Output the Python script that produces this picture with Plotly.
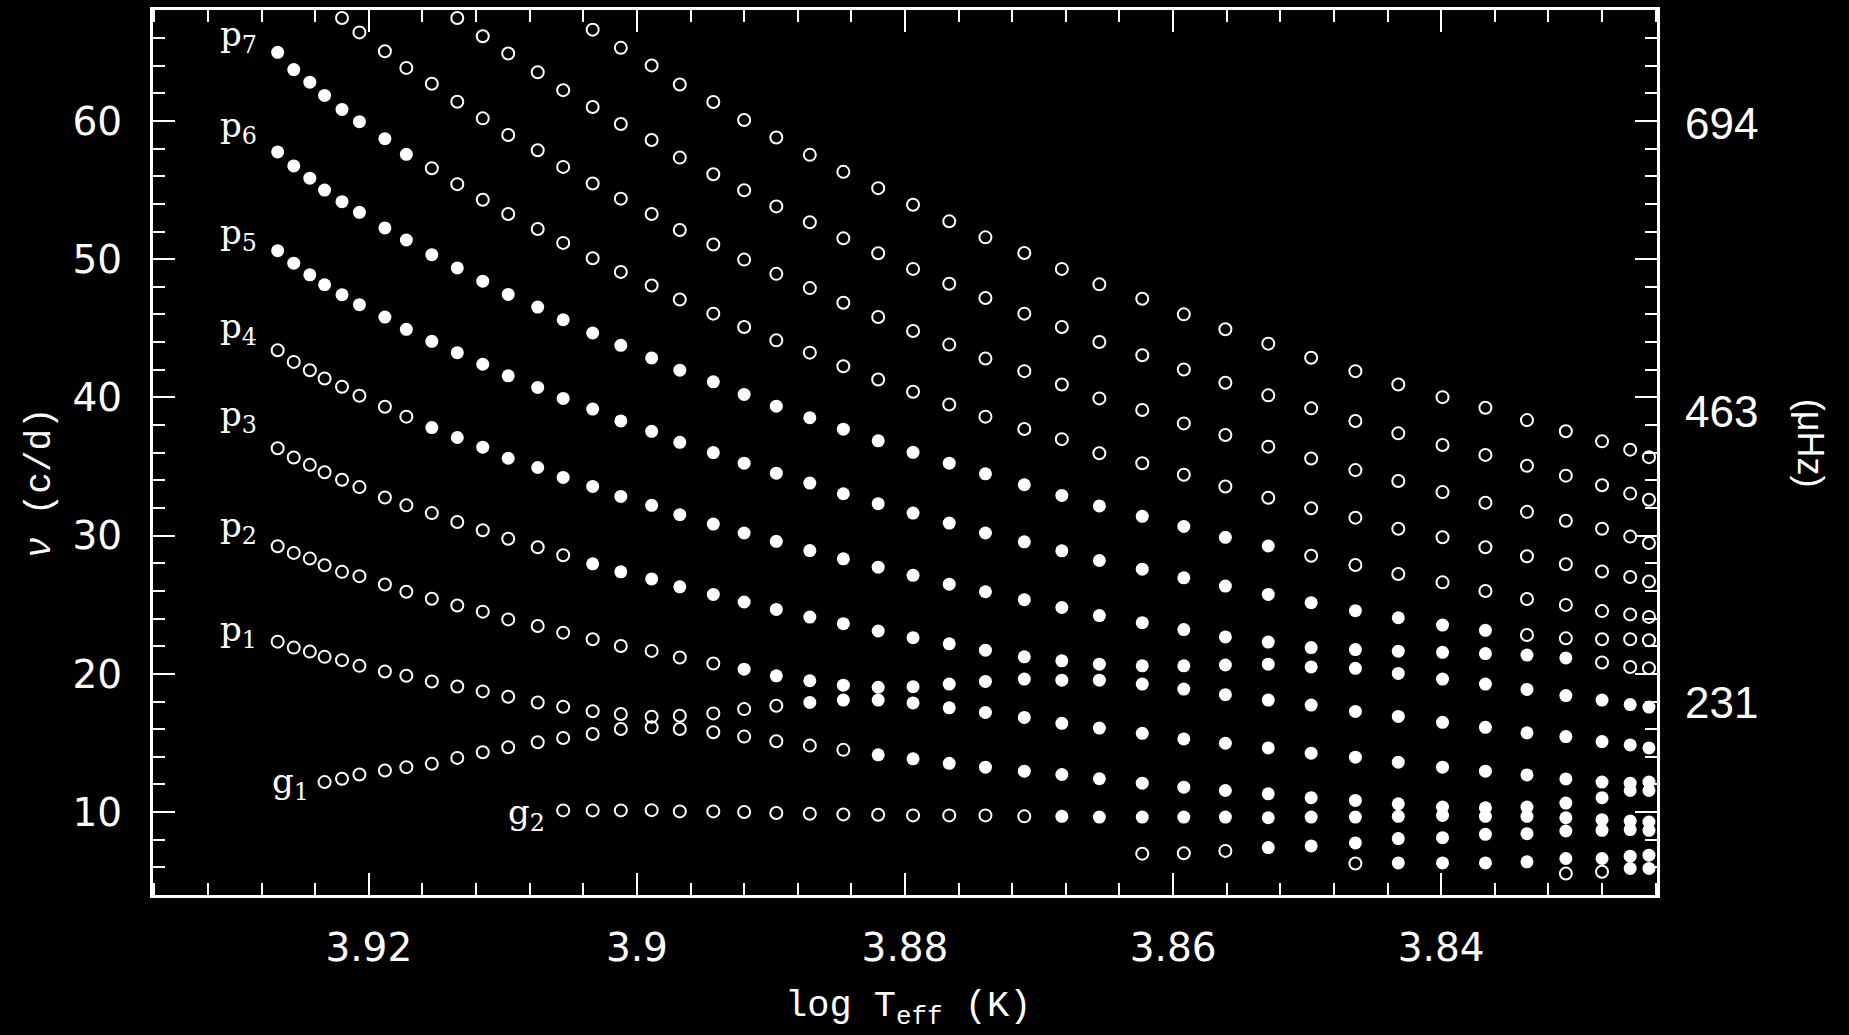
import plotly.graph_objects as go

# ---------------- data ----------------
# model effective temperatures (one column of points per model)
log_teff = [3.9268, 3.9256, 3.9244, 3.9233, 3.9220, 3.9207, 3.9188, 3.9172, 3.9153, 3.9134,
            3.9115, 3.9096, 3.9074, 3.9055, 3.9033, 3.9012, 3.8989, 3.8968, 3.8943, 3.8920,
            3.8896, 3.8871, 3.8846, 3.8820, 3.8794, 3.8767, 3.8740, 3.8711, 3.8683, 3.8655,
            3.8623, 3.8592, 3.8561, 3.8529, 3.8497, 3.8464, 3.8432, 3.8399, 3.8367, 3.8336,
            3.8307, 3.8280, 3.8259, 3.8245]

# each mode sequence: first model index, frequencies (c/d), state per point (f = filled/unstable, o = open/stable)
p10_start = 14
p10_nu = [66.61, 65.29, 64.02, 62.64, 61.37, 60.07, 58.80, 57.55, 56.32, 55.14,
          53.94, 52.74, 51.58, 50.45, 49.30, 48.18, 47.14, 46.01, 44.93, 43.89,
          42.87, 41.90, 40.94, 40.02, 39.25, 38.36, 37.55, 36.82, 36.22, 35.68]
p10_state = "oooooooooo oooooooooo oooooooooo"

p9_start = 9
p9_nu = [67.45, 66.13, 64.88, 63.53, 62.23, 61.01, 59.78, 58.62, 57.35, 56.15,
         54.99, 53.82, 52.67, 51.51, 50.43, 49.30, 48.22, 47.19, 46.06, 45.09,
         44.01, 43.05, 42.02, 41.06, 40.15, 39.21, 38.29, 37.40, 36.56, 35.84,
         35.06, 34.34, 33.65, 33.04, 32.60]
p9_state = "oooooooooo oooooooooo oooooooooo ooooo"

p8_start = 4
p8_nu = [67.45, 66.41, 65.05, 63.84, 62.69, 61.39, 60.19, 58.99, 57.88, 56.68,
         55.48, 54.38, 53.27, 52.11, 51.06, 49.97, 48.94, 47.91, 46.85, 45.82,
         44.81, 43.82, 42.81, 41.90, 40.94, 39.93, 39.09, 38.12, 37.28, 36.44,
         35.58, 34.74, 33.95, 33.15, 32.38, 31.72, 31.08, 30.50, 29.93, 29.47]
p8_state = "oooooooooo oooooooooo oooooooooo oooooooooo"

p7_start = 0
p7_nu = [64.97, 63.72, 62.81, 61.85, 60.84, 59.95, 58.72, 57.59, 56.58, 55.43,
         54.30, 53.27, 52.19, 51.18, 50.07, 49.08, 48.10, 47.09, 46.06, 45.09,
         44.13, 43.24, 42.26, 41.30, 40.41, 39.49, 38.61, 37.72, 36.98, 35.96,
         35.24, 34.40, 33.56, 32.74, 31.98, 31.30, 30.50, 29.88, 29.16, 28.51,
         27.93, 27.40, 27.01, 26.68]
p7_state = "ffffffffoo oooooooooo oooooooooo oooooooooo oooo"

p6_start = 0
p6_nu = [57.76, 56.75, 55.86, 55.00, 54.16, 53.39, 52.26, 51.39, 50.33, 49.37,
         48.41, 47.45, 46.54, 45.62, 44.66, 43.77, 42.86, 41.97, 41.13, 40.22,
         39.37, 38.53, 37.70, 36.86, 36.03, 35.24, 34.47, 33.68, 32.91, 32.15,
         31.40, 30.67, 29.88, 29.25, 28.55, 27.88, 27.22, 26.62, 25.99, 25.42,
         24.99, 24.54, 24.30, 24.12]
p6_state = "ffffffffff ffffffffff ffffffffff ffffoooooo oooo"

p5_start = 0
p5_nu = [50.62, 49.71, 48.87, 48.15, 47.43, 46.71, 45.81, 44.93, 44.06, 43.24,
         42.40, 41.56, 40.72, 39.93, 39.16, 38.30, 37.55, 36.75, 36.01, 35.24,
         34.52, 33.80, 33.03, 32.31, 31.63, 30.91, 30.19, 29.55, 28.90, 28.20,
         27.57, 26.95, 26.35, 25.75, 25.15, 24.57, 24.06, 23.53, 23.15, 22.81,
         22.57, 22.50, 22.50, 22.43]
p5_state = "ffffffffff ffffffffff ffffffffff fffffffffo oooo"

p4_start = 0
p4_nu = [43.41, 42.57, 41.97, 41.37, 40.77, 40.12, 39.33, 38.61, 37.82, 37.10,
         36.40, 35.60, 34.93, 34.21, 33.56, 32.84, 32.19, 31.52, 30.84, 30.19,
         29.59, 28.92, 28.32, 27.72, 27.13, 26.49, 25.94, 25.37, 24.80, 24.22,
         23.70, 23.20, 22.67, 22.30, 21.90, 21.76, 21.64, 21.56, 21.47, 21.36,
         21.15, 20.82, 20.50, 20.41]
p4_state = "ooooooooff ffffffffff ffffffffff ffffffffff fooo"

p3_start = 0
p3_nu = [36.32, 35.65, 35.12, 34.59, 34.04, 33.51, 32.76, 32.19, 31.63, 30.99,
         30.39, 29.78, 29.16, 28.58, 27.96, 27.38, 26.87, 26.30, 25.75, 25.20,
         24.66, 24.11, 23.63, 23.10, 22.62, 22.17, 21.71, 21.23, 20.94, 20.70,
         20.58, 20.58, 20.64, 20.70, 20.50, 20.40, 20.03, 19.62, 19.26, 18.87,
         18.43, 18.10, 17.78, 17.60]
p3_state = "oooooooooo ooooffffff ffffffffff ffffffffff ffff"

p2_start = 0
p2_nu = [29.23, 28.75, 28.34, 27.86, 27.38, 27.07, 26.47, 25.94, 25.43, 24.95,
         24.50, 23.94, 23.46, 22.98, 22.50, 22.02, 21.66, 21.18, 20.75, 20.34,
         19.86, 19.50, 19.18, 19.03, 19.07, 19.26, 19.45, 19.62, 19.54, 19.54,
         19.26, 18.90, 18.49, 18.10, 17.74, 17.28, 16.92, 16.49, 16.13, 15.73,
         15.46, 15.10, 14.86, 14.64]
p2_state = "oooooooooo ooooooooof ffffffffff ffffffffff ffff"

p1_start = 0
p1_nu = [22.33, 21.90, 21.61, 21.23, 20.99, 20.58, 20.17, 19.86, 19.45, 19.09,
         18.73, 18.34, 17.93, 17.62, 17.29, 17.09, 16.90, 16.97, 17.14, 17.45,
         17.69, 17.93, 18.10, 18.10, 17.90, 17.54, 17.21, 16.85, 16.42, 16.08,
         15.70, 15.29, 14.98, 14.64, 14.26, 13.97, 13.61, 13.25, 12.96, 12.69,
         12.40, 12.17, 12.09, 12.17]
p1_state = "oooooooooo oooooooooo offfffffff ffffffffff ffff"

g1_start = 3
g1_nu = [12.17, 12.41, 12.72, 13.01, 13.25, 13.49, 13.92, 14.33, 14.69, 15.05,
         15.36, 15.65, 16.01, 16.13, 16.01, 15.77, 15.46, 15.12, 14.81, 14.50,
         14.14, 13.85, 13.53, 13.25, 12.96, 12.72, 12.41, 12.09, 11.80, 11.56,
         11.32, 11.04, 10.84, 10.60, 10.36, 10.31, 10.36, 10.65, 11.04, 11.56,
         11.56]
g1_state = "oooooooooo oooooooooo ffffffffff ffffffffff f"

g2_start = 13
g2_nu = [10.12, 10.12, 10.12, 10.14, 10.05, 10.05, 10.00, 9.93, 9.88, 9.83,
         9.81, 9.76, 9.76, 9.76, 9.69, 9.69, 9.64, 9.64, 9.64, 9.64,
         9.59, 9.64, 9.64, 9.69, 9.76, 9.69, 9.69, 9.59, 9.45, 9.35, 9.28]
g2_state = "oooooooooo ooooofffff ffffffffff f"

g3_start = 30
g3_nu = [6.99, 7.02, 7.19, 7.43, 7.55, 7.77, 8.08, 8.15, 8.39, 8.44, 8.63, 8.68, 8.73, 8.68]
g3_state = "ooofffffff ffff"

g4_start = 35
g4_nu = [6.28, 6.32, 6.32, 6.32, 6.40, 6.64, 6.64, 6.81, 6.88]
g4_state = "offfffff f"

g5_start = 40
g5_nu = [5.55, 5.68, 5.92, 5.92]
g5_state = "ooff"

sequences = [
    (p10_start, p10_nu, p10_state), (p9_start, p9_nu, p9_state), (p8_start, p8_nu, p8_state),
    (p7_start, p7_nu, p7_state), (p6_start, p6_nu, p6_state), (p5_start, p5_nu, p5_state),
    (p4_start, p4_nu, p4_state), (p3_start, p3_nu, p3_state), (p2_start, p2_nu, p2_state),
    (p1_start, p1_nu, p1_state), (g1_start, g1_nu, g1_state), (g2_start, g2_nu, g2_state),
    (g3_start, g3_nu, g3_state), (g4_start, g4_nu, g4_state), (g5_start, g5_nu, g5_state),
]

mode_labels = ["p<sub>7</sub>", "p<sub>6</sub>", "p<sub>5</sub>", "p<sub>4</sub>",
               "p<sub>3</sub>", "p<sub>2</sub>", "p<sub>1</sub>", "g<sub>1</sub>", "g<sub>2</sub>"]
x_tick_values = [3.92, 3.90, 3.88, 3.86, 3.84]
x_tick_text = ["3.92", "3.9", "3.88", "3.86", "3.84"]
y_tick_values = [10, 20, 30, 40, 50, 60]
uhz_labels = ["694", "463", "231"]

# ---------------- build point sets ----------------
open_x, open_y, fill_x, fill_y = [], [], [], []
for start, nus, state in sequences:
    st = state.replace(" ", "")
    for k, nu in enumerate(nus):
        idx = start + k
        if idx >= len(log_teff):
            break
        s = st[k] if k < len(st) else "o"
        if s == "f":
            fill_x.append(log_teff[idx]); fill_y.append(nu)
        else:
            open_x.append(log_teff[idx]); open_y.append(nu)

fig = go.Figure()
fig.add_trace(go.Scatter(x=open_x, y=open_y, mode="markers",
                         marker=dict(symbol="circle-open", size=12, color="white",
                                     line=dict(color="white", width=2)),
                         hoverinfo="x+y", showlegend=False))
fig.add_trace(go.Scatter(x=fill_x, y=fill_y, mode="markers",
                         marker=dict(symbol="circle", size=13, color="white",
                                     line=dict(width=0)),
                         hoverinfo="x+y", showlegend=False))

W = "white"
fig.update_layout(
    width=1849, height=1035,
    paper_bgcolor="black", plot_bgcolor="black",
    margin=dict(l=153, r=192, t=7, b=140),
    showlegend=False,
    xaxis=dict(range=[3.9361, 3.8239], showgrid=False, zeroline=False,
               showline=True, linecolor=W, linewidth=3, mirror="allticks",
               ticks="inside", ticklen=22, tickwidth=2, tickcolor=W,
               tickmode="array", tickvals=x_tick_values, ticktext=x_tick_text,
               tickfont=dict(family="DejaVu Sans", size=39, color=W),
               ticklabelstandoff=16,
               minor=dict(ticks="inside", dtick=0.004, tick0=3.84, ticklen=12,
                          tickwidth=2, tickcolor=W, showgrid=False)),
    yaxis=dict(range=[4.0, 68.03], showgrid=False, zeroline=False,
               showline=True, linecolor=W, linewidth=3, mirror="allticks",
               ticks="inside", ticklen=22, tickwidth=2, tickcolor=W,
               tickmode="array", tickvals=y_tick_values,
               tickfont=dict(family="DejaVu Sans", size=39, color=W),
               ticklabelstandoff=20,
               minor=dict(ticks="inside", dtick=2, tick0=0, ticklen=12,
                          tickwidth=2, tickcolor=W, showgrid=False)),
)

ann = []
label_font = dict(family="DejaVu Serif", size=34, color=W)
p_label_y = [66.1, 59.5, 51.8, 45.0, 38.6, 30.6, 23.1]
for txt, yy in zip(mode_labels[:7], p_label_y):
    ann.append(dict(x=3.9282, y=yy, xref="x", yref="y", text=txt, showarrow=False,
                    xanchor="right", yanchor="middle", font=label_font))
ann.append(dict(x=3.9243, y=12.1, xref="x", yref="y", text=mode_labels[7], showarrow=False,
                xanchor="right", yanchor="middle", font=label_font))
ann.append(dict(x=3.9067, y=9.8, xref="x", yref="y", text=mode_labels[8], showarrow=False,
                xanchor="right", yanchor="middle", font=label_font))

# right-hand micro-Hertz labels
for txt, yy in zip(uhz_labels, [59.8, 39.0, 17.9]):
    ann.append(dict(x=1.0426, y=yy, xref="paper", yref="y", text=txt, showarrow=False,
                    xanchor="center", yanchor="middle",
                    font=dict(family="Liberation Sans", size=44, color=W)))
ann.append(dict(x=1.1017, y=0.51, xref="paper", yref="paper", text="(μHz)", showarrow=False,
                textangle=90, xanchor="center", yanchor="middle",
                font=dict(family="Liberation Sans", size=36, color=W)))

# axis titles
ann.append(dict(x=0.502, y=-0.128, xref="paper", yref="paper",
                text="log T<sub>eff</sub> (K)", showarrow=False,
                xanchor="center", yanchor="middle",
                font=dict(family="Liberation Mono", size=37, color=W)))
ann.append(dict(x=-0.0745, y=0.466, xref="paper", yref="paper",
                text="<i>ν</i> (c/d)", showarrow=False, textangle=-90,
                xanchor="center", yanchor="middle",
                font=dict(family="Liberation Mono", size=36, color=W)))

fig.update_layout(annotations=ann)
fig.write_html("out.html")
